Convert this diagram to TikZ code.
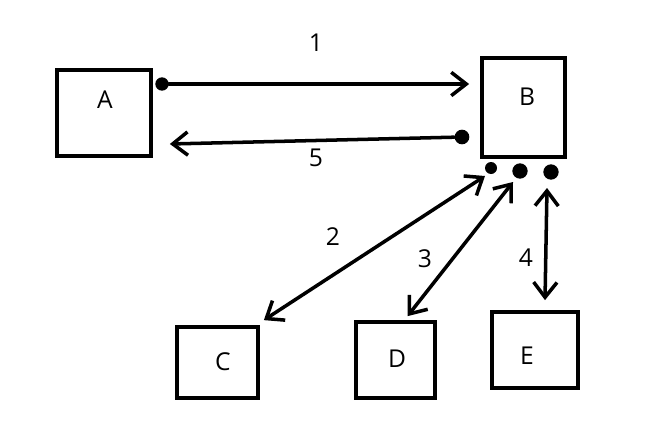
\documentclass[tikz,border=0pt]{standalone}
\usepackage{fontspec}
\setmainfont{Open Sans}
\usetikzlibrary{arrows.meta,calc}
\begin{document}
\begin{tikzpicture}[x=0.03cm,y=-0.03cm,
  >={Straight Barb[length=4.5mm,width=7mm,line width=3pt]},
  box/.style={draw,line width=3.2pt,inner sep=0pt},
  pin/.style={circle,fill,inner sep=0pt,minimum size=#1},
  link/.style={line width=3pt,line cap=round},
  num/.style={font=\fontsize{21}{25}\selectfont}]
\useasboundingbox (0,0) rectangle (670,448);
\fill[white] (0,0) rectangle (670,448);
% boxes
\node[box,minimum width=94*0.03cm,minimum height=86*0.03cm] (a) at (104,113) {};
\node[box,minimum width=83*0.03cm,minimum height=99*0.03cm] (b) at (523.5,107.5) {};
\node[box,minimum width=81*0.03cm,minimum height=71*0.03cm] (c) at (217.5,362.5) {};
\node[box,minimum width=79*0.03cm,minimum height=76*0.03cm] (d) at (395.5,360) {};
\node[box,minimum width=86*0.03cm,minimum height=76*0.03cm] (e) at (535,350) {};
\node[num] (la) at (105,100) {A};
\node[num] (lb) at (527,97) {B};
\node[num] (lc) at (223,362) {C};
\node[num] (ld) at (397,359) {D};
\node[num] (le) at (527,356) {E};
% connection points
\node[pin=4mm] (p1) at (162,84) {};
\node[pin=4.4mm] (p5) at (462,137) {};
\node[pin=3.6mm] (p2) at (491,168) {};
\node[pin=4.6mm] (p3) at (520,171) {};
\node[pin=4.6mm] (p4) at (551,172) {};
% message arrows
\draw[link,->] (p1) -- ($(b.west|-p1)+(-11,0)$);
\draw[link,->] (p5) -- ($(a.east|-p5)+(17,7)$);
\draw[link,<->] ($(p2)+(-6,8)$) -- ($(c.north east)+(4,-5)$);
\draw[link,<->] ($(p3)+(-7,11)$) -- ($(d.north)+(12,-4)$);
\draw[link,<->] ($(p4)+(-4,16)$) -- ($(e.north)+(10,-10)$);
% labels
\node[num] (n1) at (316,43) {1};
\node[num] (n5) at (316,158) {5};
\node[num] (n2) at (333,237) {2};
\node[num] (n3) at (425,259) {3};
\node[num] (n4) at (526,258) {4};
\end{tikzpicture}
\end{document}
